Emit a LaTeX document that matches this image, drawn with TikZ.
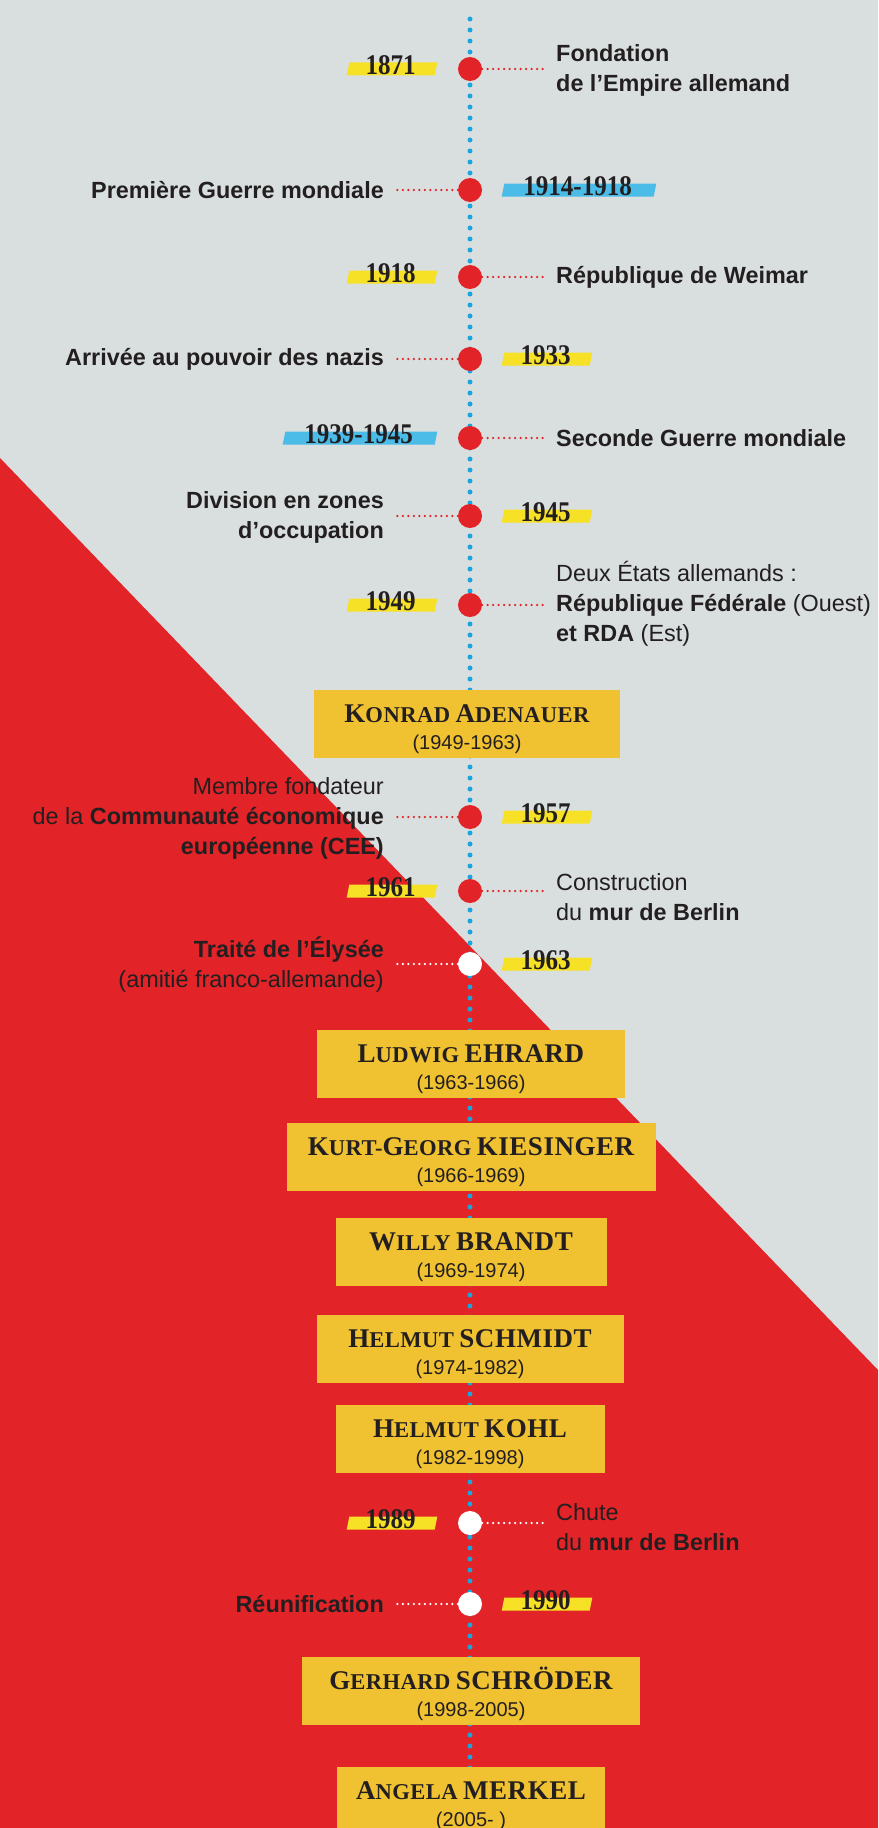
\documentclass[tikz,border=0pt]{standalone}
\usepackage{fontspec}
\setmainfont{Liberation Sans}
\newfontfamily\yearfont[FakeStretch=0.88]{Liberation Serif}
\newfontfamily\namefont[LetterSpace=2]{Liberation Serif}
\usetikzlibrary{positioning}

\definecolor{bggray}{HTML}{D9DFDF}
\definecolor{flagred}{HTML}{E22328}
\definecolor{hlyellow}{HTML}{F7E127}
\definecolor{hlblue}{HTML}{4BBBE8}
\definecolor{boxgold}{HTML}{F0C130}
\definecolor{lineblue}{HTML}{1BA5DF}
\definecolor{ink}{HTML}{231F20}

\newcommand\bigsz{\fontsize{27}{28}\selectfont}
\newcommand\smsz{\fontsize{22.6}{28}\selectfont}
\newcommand\datesz{\fontsize{20}{27}\selectfont}
\newcommand\scn[2]{{\bigsz#1}{\smsz#2}}
\newcommand\nm[1]{\rule{0pt}{28pt}{\namefont\bfseries#1}}

\begin{document}
\begin{tikzpicture}[x=1pt,y=1pt]
	\tikzset{event/.style = {shape=circle,fill=flagred,minimum size=24pt,inner sep=0pt}}
	\tikzset{eventw/.style = {event,fill=white}}
	\tikzset{txtr/.style = {anchor=west,align=left,inner xsep=8pt,inner ysep=0pt,text=ink,font=\fontsize{23.4}{30}\selectfont}}
	\tikzset{txtl/.style = {txtr,anchor=east,align=right}}
	\tikzset{bar/.style = {rectangle,xslant=0.2,transform shape,fill=hlyellow,minimum height=13pt,minimum width=88pt,inner sep=0pt}}
	\tikzset{barb/.style = {bar,fill=hlblue,minimum width=152pt}}
	\tikzset{year/.style = {anchor=base,inner sep=0pt,yshift=1pt,text=ink,font=\yearfont\bfseries\fontsize{28.5}{28}\selectfont}}
	\tikzset{leader/.style = {flagred,line width=2.5pt,line cap=round,dash pattern=on 0pt off 5.5pt,shorten >=2pt}}
	\tikzset{leaderw/.style = {leader,white}}
	\tikzset{namebox/.style = {fill=boxgold,minimum height=68pt,inner xsep=0pt,inner ysep=0pt,align=center,text=ink,font=\datesz}}

	% background
	\useasboundingbox (0,0) rectangle (878,-1828);
	\fill[bggray] (0,0) rectangle (878,-1828);
	\fill[flagred] (0,-458) -- (878,-1370) -- (878,-1828) -- (0,-1828) -- cycle;

	% time axis
	\coordinate (top) at (470,-19);
	\coordinate (bottom) at (470,-1828);
	\draw[lineblue,line width=5pt,line cap=round,dash pattern=on 0pt off 11pt] (top) -- (bottom);

	% chancellors
	\node[namebox,minimum width=306pt] (adenauer) at (467,-724) {\nm{\scn{K}{ONRAD} \scn{A}{DENAUER}}\\(1949-1963)};
	\node[namebox,minimum width=308pt] (erhard) at (471,-1064) {\nm{\scn{L}{UDWIG} {\bigsz EHRARD}}\\(1963-1966)};
	\node[namebox,minimum width=369pt] (kiesinger) at (471,-1157) {\nm{\scn{K}{URT}{\smsz-}\scn{G}{EORG} {\bigsz KIESINGER}}\\(1966-1969)};
	\node[namebox,minimum width=271pt] (brandt) at (471,-1252) {\nm{\scn{W}{ILLY} {\bigsz BRANDT}}\\(1969-1974)};
	\node[namebox,minimum width=307pt] (schmidt) at (470,-1349) {\nm{\scn{H}{ELMUT} {\bigsz SCHMIDT}}\\(1974-1982)};
	\node[namebox,minimum width=269pt] (kohl) at (470,-1439) {\nm{\scn{H}{ELMUT} {\bigsz KOHL}}\\(1982-1998)};
	\node[namebox,minimum width=338pt] (schroeder) at (471,-1691) {\nm{\scn{G}{ERHARD} {\bigsz SCHRÖDER}}\\(1998-2005)};
	\node[namebox,minimum width=268pt] (merkel) at (471,-1801) {\nm{\scn{A}{NGELA} {\bigsz MERKEL}}\\(2005- )};

	% events
	\node[event] (e1871) at (470,-69) {};
	\node[event] (e1914) at (470,-190) {};
	\node[event] (e1918) at (470,-277) {};
	\node[event] (e1933) at (470,-359) {};
	\node[event] (e1939) at (470,-438) {};
	\node[event] (e1945) at (470,-516) {};
	\node[event] (e1949) at (470,-605) {};
	\node[event] (e1957) at (470,-817) {};
	\node[event] (e1961) at (470,-891) {};
	\node[eventw] (e1963) at (470,-964) {};
	\node[eventw] (e1989) at (470,-1523) {};
	\node[eventw] (e1990) at (470,-1604) {};

	% years
	\node[bar] (b1871) at (392,-69) {};
	\node[year] (y1871) at (b1871.south) {1871};
	\node[barb] (b1914) at (579,-190) {};
	\node[year] (y1914) at (b1914.south) {1914-1918};
	\node[bar] (b1918) at (392,-277) {};
	\node[year] (y1918) at (b1918.south) {1918};
	\node[bar] (b1933) at (547,-359) {};
	\node[year] (y1933) at (b1933.south) {1933};
	\node[barb] (b1939) at (360,-438) {};
	\node[year] (y1939) at (b1939.south) {1939-1945};
	\node[bar] (b1945) at (547,-516) {};
	\node[year] (y1945) at (b1945.south) {1945};
	\node[bar] (b1949) at (392,-605) {};
	\node[year] (y1949) at (b1949.south) {1949};
	\node[bar] (b1957) at (547,-817) {};
	\node[year] (y1957) at (b1957.south) {1957};
	\node[bar] (b1961) at (392,-891) {};
	\node[year] (y1961) at (b1961.south) {1961};
	\node[bar] (b1963) at (547,-964) {};
	\node[year] (y1963) at (b1963.south) {1963};
	\node[bar] (b1989) at (392,-1523) {};
	\node[year] (y1989) at (b1989.south) {1989};
	\node[bar] (b1990) at (547,-1604) {};
	\node[year] (y1990) at (b1990.south) {1990};

	% texts
	\node[txtr] (t1871) at (548,-70) {\textbf{Fondation}\\\textbf{de l’Empire allemand}};
	\node[txtl] (t1914) at (392,-190) {\textbf{Première Guerre mondiale}};
	\node[txtr] (t1918) at (548,-277) {\textbf{République de Weimar}};
	\node[txtl] (t1933) at (392,-359) {\textbf{Arrivée au pouvoir des nazis}};
	\node[txtr] (t1939) at (548,-438) {\textbf{Seconde Guerre mondiale}};
	\node[txtl] (t1945) at (392,-517) {\textbf{Division en zones}\\\textbf{d’occupation}};
	\node[txtr] (t1949) at (548,-604) {Deux États allemands :\\\textbf{République Fédérale} (Ouest)\\\textbf{et RDA} (Est)};
	\node[txtl] (t1957) at (392,-818) {Membre fondateur\\de la \textbf{Communauté économique}\\\textbf{européenne (CEE)}};
	\node[txtr] (t1961) at (548,-897) {Construction\\du \textbf{mur de Berlin}};
	\node[txtl] (t1963) at (392,-965) {\textbf{Traité de l’Élysée}\\(amitié franco-allemande)};
	\node[txtr] (t1989) at (548,-1527) {Chute\\du \textbf{mur de Berlin}};
	\node[txtl] (t1990) at (392,-1604) {\textbf{Réunification}};

	% leaders
	\draw[leader] (e1871.east) -- (t1871.west |- e1871);
	\draw[leader] (e1914.west) -- (t1914.east |- e1914);
	\draw[leader] (e1918.east) -- (t1918.west |- e1918);
	\draw[leader] (e1933.west) -- (t1933.east |- e1933);
	\draw[leader] (e1939.east) -- (t1939.west |- e1939);
	\draw[leader] (e1945.west) -- (t1945.east |- e1945);
	\draw[leader] (e1949.east) -- (t1949.west |- e1949);
	\draw[leader] (e1957.west) -- (t1957.east |- e1957);
	\draw[leader] (e1961.east) -- (t1961.west |- e1961);
	\draw[leaderw] (e1963.west) -- (t1963.east |- e1963);
	\draw[leaderw] (e1989.east) -- (t1989.west |- e1989);
	\draw[leaderw] (e1990.west) -- (t1990.east |- e1990);
\end{tikzpicture}
\end{document}
